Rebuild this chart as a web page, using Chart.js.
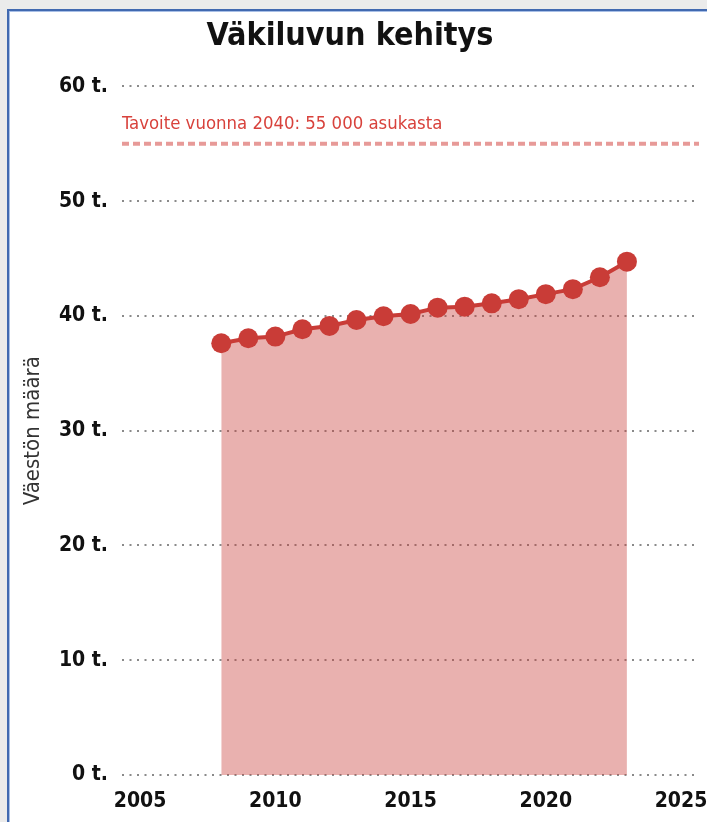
<!DOCTYPE html>
<html>
<head>
<meta charset="utf-8">
<script src="https://cdn.jsdelivr.net/npm/chart.js@4/dist/chart.umd.min.js"></script>
<style>
  html, body { margin: 0; padding: 0; background: #ebebeb; overflow: hidden; width: 707px; height: 822px; }
  #panel {
    position: absolute; left: 7px; top: 9px; width: 760px; height: 880px;
    background: #fff; border: 2px solid #4169b0;
    box-shadow: inset 1px 1px 0 #a8bfe6;
  }
  #myChart { position: absolute; left: 0; top: 0; }
</style>
</head>
<body>
<div id="panel"></div>
<canvas id="myChart" width="722" height="822"></canvas>
<script>
// vuodet ja väkiluku
const vuodet = [2008, 2009, 2010, 2011, 2012, 2013, 2014, 2015, 2016, 2017, 2018, 2019, 2020, 2021, 2022, 2023];
const vakiluku = [37620, 38060, 38200, 38840, 39130, 39650, 39970, 40170, 40720, 40810, 41100, 41460, 41900, 42330, 43370, 44730];
const xTicks = [2005, 2010, 2015, 2020, 2025];
const yTicks = [0, 10000, 20000, 30000, 40000, 50000, 60000];
const tavoite = 55000;
const tavoiteTeksti = 'Tavoite vuonna 2040: 55 000 asukasta';

const xMin = 2004.33;
const xMax = 2025.67;
const fontti = "'Liberation Sans Narrow', 'DejaVu Sans Condensed', sans-serif";

const pisteet = vuodet.map((v, i) => ({ x: v, y: vakiluku[i] }));
const tavoiteViiva = [{ x: xMin, y: tavoite }, { x: xMax, y: tavoite }];

const tavoiteLabel = {
  id: 'tavoiteLabel',
  afterDatasetsDraw(chart) {
    const ctx = chart.ctx;
    const y = chart.scales.y.getPixelForValue(tavoite);
    ctx.save();
    ctx.font = '18.4px ' + fontti;
    ctx.fillStyle = '#d8423c';
    ctx.textBaseline = 'middle';
    ctx.textAlign = 'left';
    ctx.fillText(tavoiteTeksti, chart.chartArea.left, y - 20);
    ctx.restore();
  }
};

const ctx = document.getElementById('myChart').getContext('2d');
new Chart(ctx, {
  type: 'line',
  data: {
    datasets: [
      {
        label: 'Väkiluku',
        data: pisteet,
        fill: 'origin',
        backgroundColor: 'rgba(201, 60, 55, 0.4)',
        borderColor: '#c93c37',
        borderWidth: 4,
        pointRadius: 10,
        pointBackgroundColor: '#c93c37',
        pointBorderWidth: 0,
        tension: 0
      },
      {
        label: 'Tavoite',
        data: tavoiteViiva,
        fill: false,
        borderColor: '#e79a98',
        borderWidth: 4,
        borderDash: [7, 4],
        pointRadius: 0
      }
    ]
  },
  options: {
    responsive: false,
    animation: false,
    devicePixelRatio: 1,
    layout: { padding: { top: 17, right: 22, bottom: 0, left: 0 } },
    plugins: {
      legend: { display: false },
      tooltip: { enabled: false },
      title: {
        display: true,
        text: 'Väkiluvun kehitys',
        color: '#111',
        font: { family: fontti, size: 32, weight: 'bold' },
        padding: { top: 0, bottom: 31 }
      }
    },
    scales: {
      x: {
        type: 'linear',
        min: xMin,
        max: xMax,
        afterBuildTicks: s => { s.ticks = xTicks.map(v => ({ value: v })); },
        afterFit: s => { s.height = 47; },
        grid: { display: false, drawTicks: false },
        border: { display: false },
        ticks: {
          padding: 14,
          color: '#111',
          font: { family: fontti, size: 21, weight: 'bold' },
          callback: v => String(v)
        }
      },
      y: {
        min: 0,
        max: 60000,
        afterBuildTicks: s => { s.ticks = yTicks.map(v => ({ value: v })); },
        afterFit: s => { s.width = 122; },
        grid: { color: '#8a8a8a', lineWidth: 2, drawTicks: false },
        border: { display: false, dash: [2, 5.5] },
        ticks: {
          padding: 14,
          color: '#111',
          font: { family: fontti, size: 21, weight: 'bold' },
          callback: v => (v / 1000) + ' t.'
        },
        title: {
          display: true,
          text: 'Väestön määrä',
          color: '#333',
          font: { family: fontti, size: 22 },
          padding: { top: 20, bottom: 0 }
        }
      }
    }
  },
  plugins: [tavoiteLabel]
});
</script>
</body>
</html>
